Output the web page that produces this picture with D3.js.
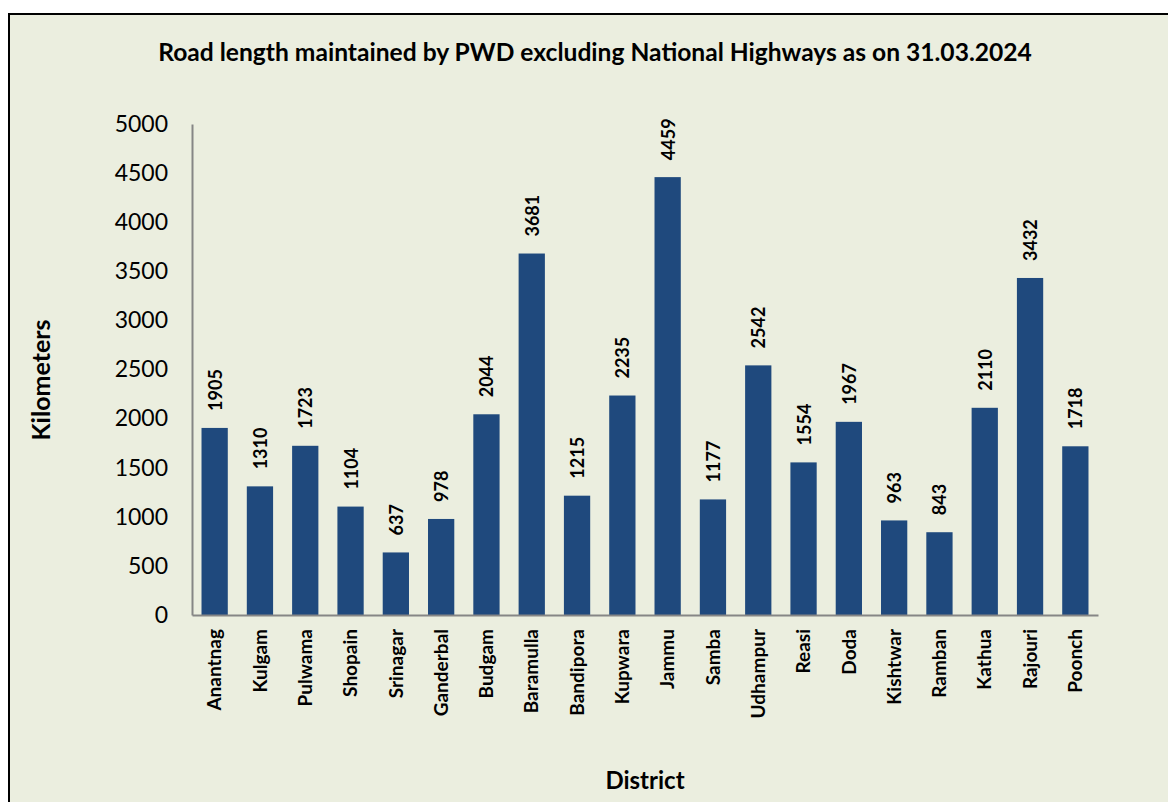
<!DOCTYPE html>
<html>
<head>
<meta charset="utf-8">
<script src="https://cdn.jsdelivr.net/npm/d3@7"></script>
<style>
  body { margin: 0; background: #fff; }
  text { font-family: Lato, "Open Sans", sans-serif; }
</style>
</head>
<body>
<div id="chart"></div>
<script>
// districts and road length (km)
var districts = ["Anantnag", "Kulgam", "Pulwama", "Shopain", "Srinagar", "Ganderbal", "Budgam",
  "Baramulla", "Bandipora", "Kupwara", "Jammu", "Samba", "Udhampur", "Reasi", "Doda",
  "Kishtwar", "Ramban", "Kathua", "Rajouri", "Poonch"];
var roadLength = [1905, 1310, 1723, 1104, 637, 978, 2044, 3681, 1215, 2235, 4459, 1177, 2542,
  1554, 1967, 963, 843, 2110, 3432, 1718];
var yTicks = [0, 500, 1000, 1500, 2000, 2500, 3000, 3500, 4000, 4500, 5000];

var W = 1168, H = 802;
var margin = {top: 124, right: 70, bottom: 187, left: 192},
    width = W - margin.left - margin.right,
    height = H - margin.top - margin.bottom;

var data = districts.map(function(d, i) { return {name: d, value: roadLength[i]}; });

var x = d3.scaleBand()
    .domain(districts)
    .range([0, width])
    .paddingInner(0.42)
    .paddingOuter(0.21);
var y = d3.scaleLinear()
    .domain([0, 5000])
    .range([height, 0]);

var svg = d3.select("#chart").append("svg")
    .attr("width", W)
    .attr("height", H);

// chart area background + border (right/bottom edges run off the page)
svg.append("rect")
    .attr("x", 9).attr("y", 14)
    .attr("width", W + 10).attr("height", H + 10)
    .attr("fill", "#ebeedf")
    .attr("stroke", "#000")
    .attr("stroke-width", 2);

svg.append("text")
    .attr("x", 595).attr("y", 61)
    .attr("text-anchor", "middle")
    .attr("font-size", 24.6)
    .attr("font-weight", "bold")
    .text("Road length maintained by PWD excluding National Highways as on 31.03.2024");

var g = svg.append("g")
    .attr("transform", "translate(" + margin.left + "," + margin.top + ")");

// bars
g.selectAll(".bar")
    .data(data)
  .enter().append("rect")
    .attr("class", "bar")
    .attr("x", function(d) { return x(d.name); })
    .attr("width", x.bandwidth())
    .attr("y", function(d) { return y(d.value); })
    .attr("height", function(d) { return height - y(d.value); })
    .attr("fill", "#1f497d");

// value labels
g.selectAll(".val")
    .data(data)
  .enter().append("text")
    .attr("class", "val")
    .attr("transform", function(d) {
      return "translate(" + (x(d.name) + x.bandwidth() / 2 + 7) + "," + (y(d.value) - 17) + ") rotate(-90)";
    })
    .attr("font-size", 18)
    .attr("font-weight", "bold")
    .text(function(d) { return d.value; });

// y axis
var yAxis = g.append("g")
    .call(d3.axisLeft(y).tickValues(yTicks).tickFormat(d3.format("d")).tickSize(0).tickPadding(24));
yAxis.select(".domain").attr("stroke", "#868686").attr("stroke-width", 2);
yAxis.selectAll("text").attr("font-size", 23).attr("fill", "#000")
    .style("font-family", "Lato, sans-serif");

// x axis
var xAxis = g.append("g")
    .attr("transform", "translate(0," + height + ")")
    .call(d3.axisBottom(x).tickSize(0).tickSizeOuter(0));
xAxis.select(".domain").attr("stroke", "#868686").attr("stroke-width", 2);
xAxis.selectAll("text")
    .attr("font-size", 19)
    .attr("font-weight", "bold")
    .attr("fill", "#000")
    .style("font-family", "Lato, sans-serif")
    .attr("text-anchor", "end")
    .attr("dy", "0.35em")
    .attr("transform", "rotate(-90)")
    .attr("x", -14)
    .attr("y", 0);

// axis titles
svg.append("text")
    .attr("transform", "translate(50," + 380 + ") rotate(-90)")
    .attr("text-anchor", "middle")
    .attr("font-size", 25)
    .attr("font-weight", "bold")
    .text("Kilometers");

svg.append("text")
    .attr("x", 645).attr("y", 789)
    .attr("text-anchor", "middle")
    .attr("font-size", 24)
    .attr("font-weight", "bold")
    .text("District");
</script>
</body>
</html>
